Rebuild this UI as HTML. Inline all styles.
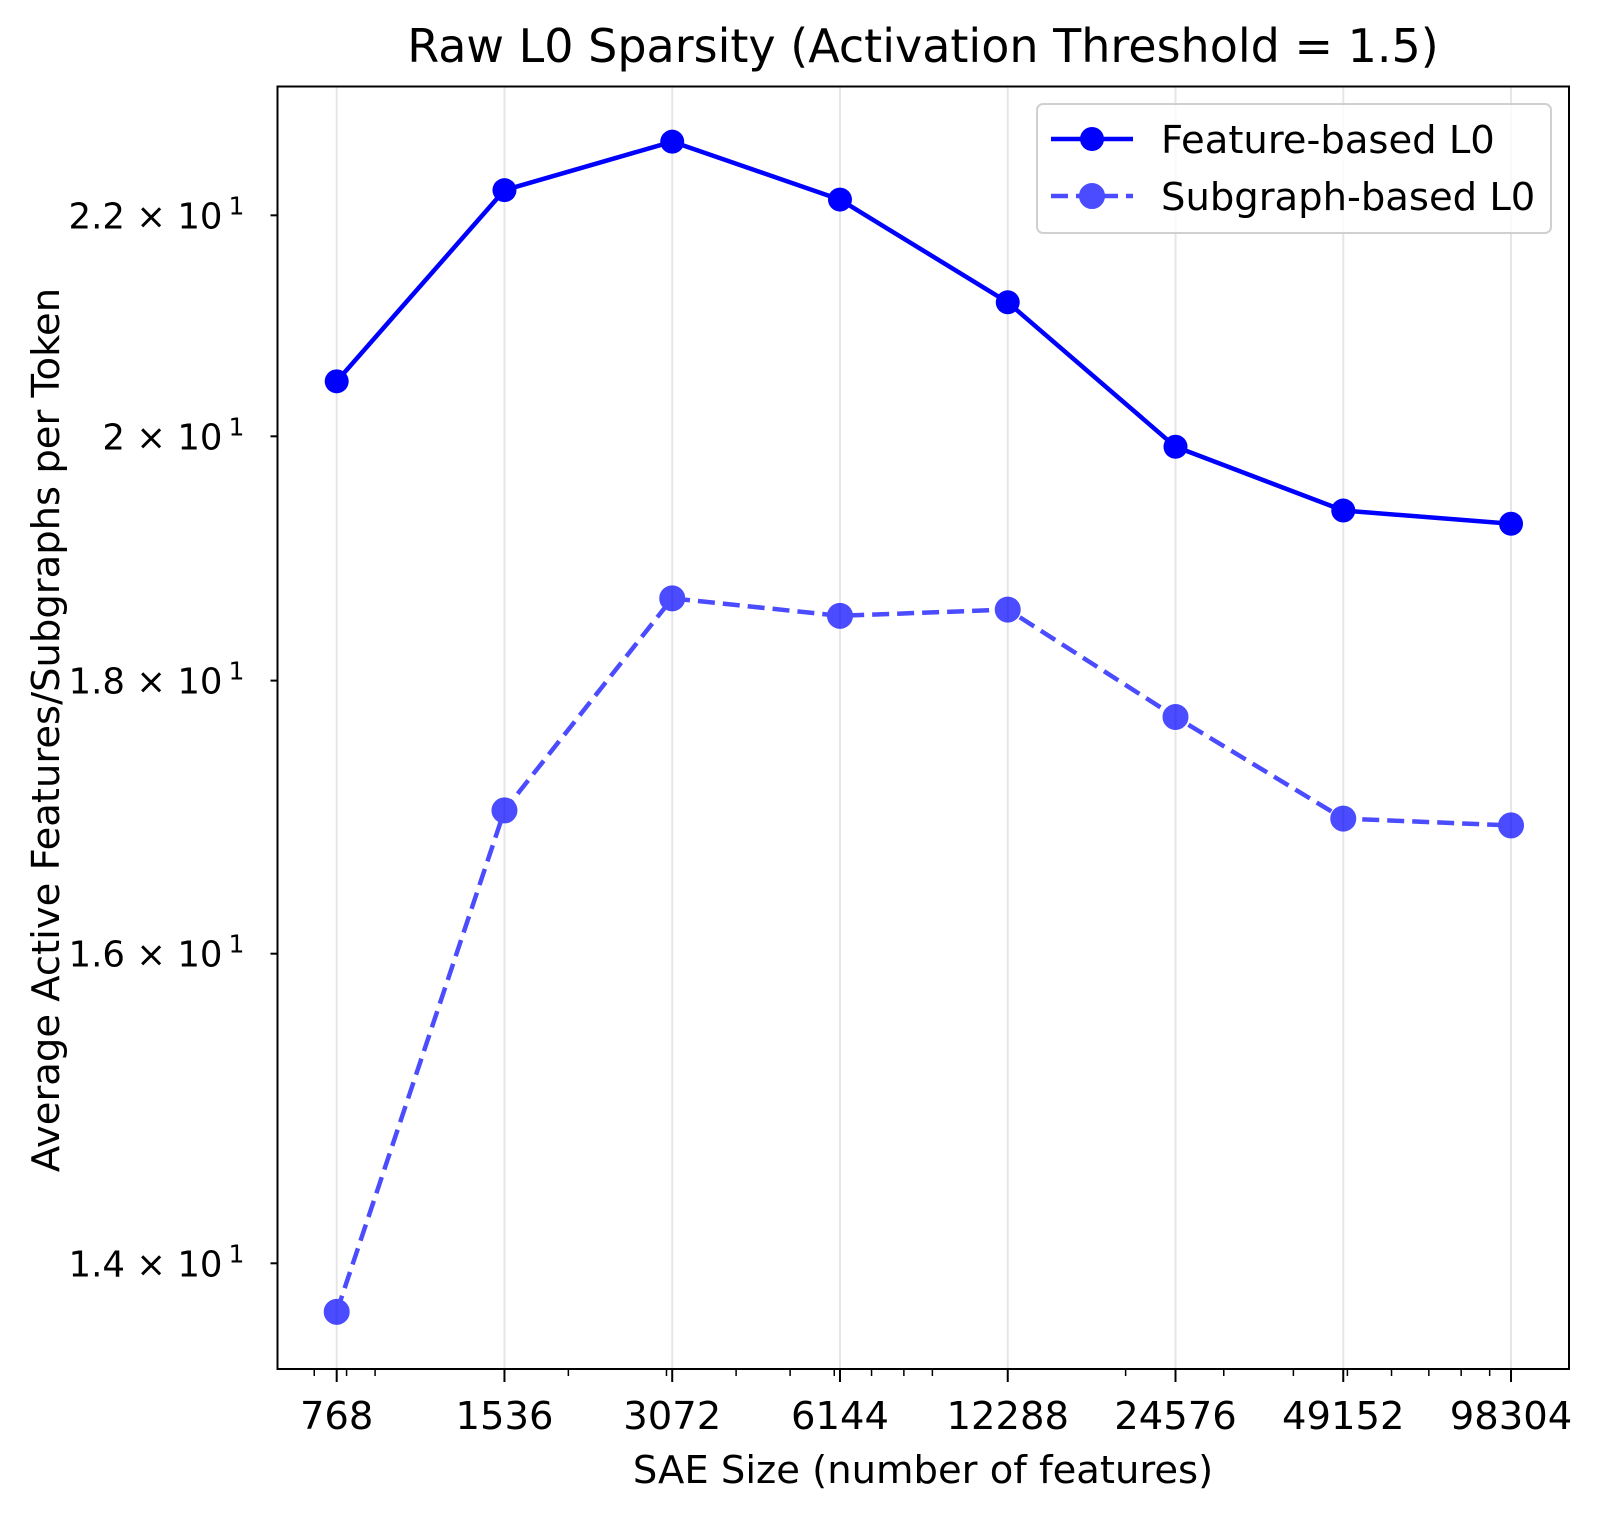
<!DOCTYPE html>
<html><head><meta charset="utf-8"><style>
html,body{margin:0;padding:0;background:#fff;}
svg{display:block;font-family:"DejaVu Sans","Liberation Sans",sans-serif;}
</style></head><body>
<svg id="chart" width="1600" height="1518" viewBox="0 0 1600 1518" xmlns="http://www.w3.org/2000/svg">
<rect width="1600" height="1518" fill="#fff"/>
<text x="923" y="62" font-size="46" text-anchor="middle">Raw L0 Sparsity (Activation Threshold = 1.5)</text>
<g id="grid"></g>
<g id="series"></g>
<rect x="277.5" y="86.5" width="1291.5" height="1282.5" fill="none" stroke="#000" stroke-width="2"/>
<g id="xaxis"></g>
<g id="yaxis"></g>
<text x="923" y="1483" font-size="38.5" text-anchor="middle">SAE Size (number of features)</text>
<text transform="translate(59,730) rotate(-90)" font-size="38.5" text-anchor="middle">Average Active Features/Subgraphs per Token</text>
<g>
<rect x="1037" y="104" width="514" height="129" rx="6" fill="#fff" fill-opacity="0.8" stroke="#d0d0d0" stroke-width="2"/>
<g>
<line x1="1051" y1="139" x2="1133" y2="139" stroke="#0000ff" stroke-width="4.5"/>
<circle cx="1092" cy="139" r="12" fill="#0000ff"/>
<text x="1161" y="153" font-size="38.5">Feature-based L0</text>
</g>
<g>
<g opacity="0.7">
<line x1="1051" y1="196" x2="1133" y2="196" stroke="#0000ff" stroke-width="4.5" stroke-dasharray="17,8"/>
<circle cx="1092" cy="196" r="12" fill="#0000ff" stroke="#0000ff" stroke-width="2"/>
</g>
<text x="1161" y="210" font-size="38.5">Subgraph-based L0</text>
</g>
</g>
</svg>
<script>
const categories = [768, 1536, 3072, 6144, 12288, 24576, 49152, 98304];
const featureL0 = [20.48, 22.24, 22.71, 22.15, 21.19, 19.91, 19.37, 19.26];
const subgraphL0 = [13.71, 17.02, 18.65, 18.51, 18.56, 17.72, 16.96, 16.91];
const yTicks = [14, 16, 18, 20, 22];
const yTickLabels = ["1.4", "1.6", "1.8", "2", "2.2"];

const NS = "http://www.w3.org/2000/svg";
const L = 277.5, R = 1569, T = 86.5, B = 1369;
const x0 = 336.7, pxPerOct = 167.76;
function xs(v){ return x0 + Math.log2(v/768)*pxPerOct; }
const yRef = 1263.3, pxPerLn = 2318.6;
function ys(v){ return yRef - (Math.log(v) - Math.log(14))*pxPerLn; }
function mk(tag, attrs, parent){ const e=document.createElementNS(NS,tag); for(const k in attrs) e.setAttribute(k,attrs[k]); parent.appendChild(e); return e; }

const grid = document.getElementById('grid');
const xa = document.getElementById('xaxis');
const ya = document.getElementById('yaxis');
const ser = document.getElementById('series');

categories.forEach(c=>{
  const x = xs(c);
  const g = mk('line',{x1:x,y1:T,x2:x,y2:B,stroke:'#e6e6e6','stroke-width':2},grid);
  
  
  const t = mk('line',{x1:x,y1:B,x2:x,y2:B+13,stroke:'#000','stroke-width':2},xa);
  
  
  const lb = mk('text',{x:x,y:B+60,'font-size':38.5,'text-anchor':'middle'},xa);
  lb.textContent = String(c);
  
  
});
[100,1000,10000].forEach(d=>{
  for(let m=2;m<=9;m++){
    const v=m*d, x=xs(v);
    if(x<L||x>R) continue;
    const t = mk('line',{x1:x,y1:B,x2:x,y2:B+7,stroke:'#000','stroke-width':1.5},xa);
    
    
  }
});
yTicks.forEach((v,i)=>{
  const y = ys(v);
  const t = mk('line',{x1:L-7,y1:y,x2:L,y2:y,stroke:'#000','stroke-width':2},ya);
  
  
  const lb = mk('text',{x:L-55,y:y+13,'font-size':35.5,'text-anchor':'end'},ya);
  lb.textContent = yTickLabels[i] + " \u00d7 10";
  
  
  const sup = mk('text',{x:L-49,y:y-1,'font-size':25,'text-anchor':'start'},ya);
  sup.textContent = "1";
  
  
});

function drawSeries(vals, name, dashed, alpha){
  const g = mk('g',{opacity:alpha},ser);
  
  
  const pts = vals.map((v,i)=>xs(categories[i])+','+ys(v)).join(' ');
  const pl = mk('polyline',{points:pts,fill:'none',stroke:'#0000ff','stroke-width':4.5,'stroke-linejoin':'round'},g);
  if(dashed) pl.setAttribute('stroke-dasharray','17,8');
  
  
  vals.forEach((v,i)=>{
    const c = mk('circle',{cx:xs(categories[i]),cy:ys(v),r:12,fill:'#0000ff',stroke:'#0000ff','stroke-width':dashed?2:0},g);
    
    
  });
}
drawSeries(featureL0,'feature-based-l0',false,1);
drawSeries(subgraphL0,'subgraph-based-l0',true,0.7);
</script>
</body></html>
